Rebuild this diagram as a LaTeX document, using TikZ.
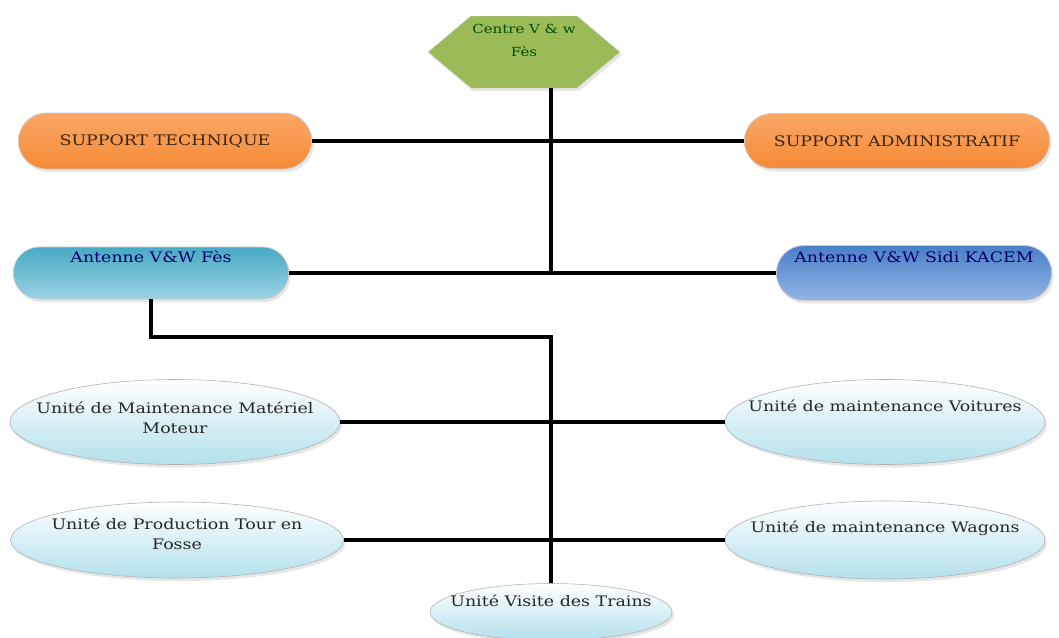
\documentclass[tikz,border=0pt]{standalone}
\usepackage{fontspec}
\setmainfont{DejaVu Serif}[FakeStretch=1.2]
\usetikzlibrary{shapes.misc,shapes.symbols,shapes.geometric,shadows}
\definecolor{centregreen}{HTML}{9BBB59}
\definecolor{supporttop}{HTML}{FAA765}
\definecolor{supportbot}{HTML}{F58A36}
\definecolor{fesblue}{HTML}{48A9C5}
\definecolor{fesblue2}{HTML}{9AD3E2}
\definecolor{sidiblue}{HTML}{4A7EC8}
\definecolor{sidiblue2}{HTML}{92B6E4}
\definecolor{unitbot}{HTML}{B3E0EC}
\begin{document}
\begin{tikzpicture}[x=1pt,y=-1pt,
  link/.style={line width=3.6pt},
  glow/.style={drop shadow={opacity=0.2,shadow xshift=2pt,shadow yshift=-3pt}},
  pill/.style={rounded rectangle,draw=white!80!black,line width=0.8pt,glow,
    font=\fontsize{14.5}{17}\selectfont},
  unit/.style={ellipse,draw=black!30,line width=0.6pt,top color=white,
    bottom color=unitbot,glow,text=black!85,align=center,inner xsep=-40pt,
    font=\fontsize{14.5}{20}\selectfont}]
  \useasboundingbox (0,0) rectangle (1059,637);
  % head of the centre
  \node (centre) [signal,signal to=west and east,signal pointer angle=80,
    minimum width=192pt,minimum height=72pt,fill=centregreen,
    draw=white!85!black,glow,align=center,text=black!70!green,
    inner xsep=0pt,font=\fontsize{12.5}{23}\selectfont,text depth=24pt]
    at (524,52) {Centre V \& w\\Fès};
  % supports
  \node (suptech) [pill,minimum width=300pt,minimum height=56pt,
    top color=supporttop,bottom color=supportbot,text=black!70!brown]
    at (165,141) {SUPPORT TECHNIQUE};
  \node (supadmin) [pill,minimum width=312pt,minimum height=55pt,
    top color=supporttop,bottom color=supportbot,text=black!70!brown]
    at (897,141) {SUPPORT ADMINISTRATIF};
  % antennes
  \node (antfes) [pill,minimum width=282pt,minimum height=52pt,
    top color=fesblue,bottom color=fesblue2,text=black!60!blue,
    text depth=32pt] at (151,273) {Antenne V\&W Fès};
  \node (antsidi) [pill,minimum width=282pt,minimum height=55pt,
    top color=sidiblue,bottom color=sidiblue2,text=black!60!blue,
    text depth=32pt] at (914,273) {Antenne V\&W Sidi KACEM};
  % units
  \node (matmot) [unit,minimum width=330pt,minimum height=85pt,
    text depth=8pt] at (175,422) {Unité de Maintenance Matériel\\Moteur};
  \node (voit) [unit,minimum width=320pt,minimum height=85pt,
    text depth=32pt] at (885,422) {Unité de maintenance Voitures};
  \node (tour) [unit,minimum width=333pt,minimum height=76pt,
    text depth=12pt] at (177,540) {Unité de Production Tour en\\Fosse};
  \node (wag) [unit,minimum width=320pt,minimum height=78pt,
    text depth=26pt] at (885,540) {Unité de maintenance Wagons};
  \node (visite) [unit,minimum width=242pt,minimum height=54pt,
    text depth=22pt] at (551,612) {Unité Visite des Trains};
  % links
  \coordinate (trunk) at (551,273);
  \coordinate (knee) at (551,337);
  \draw[link] (centre.south -| trunk) -- (trunk);
  \draw[link] (suptech) -- (supadmin);
  \draw[link] (antfes) -- (antsidi);
  \draw[link] (antfes.south) |- (knee) -- (visite);
  \draw[link] (matmot) -- (voit);
  \draw[link] (tour) -- (wag);
\end{tikzpicture}
\end{document}
